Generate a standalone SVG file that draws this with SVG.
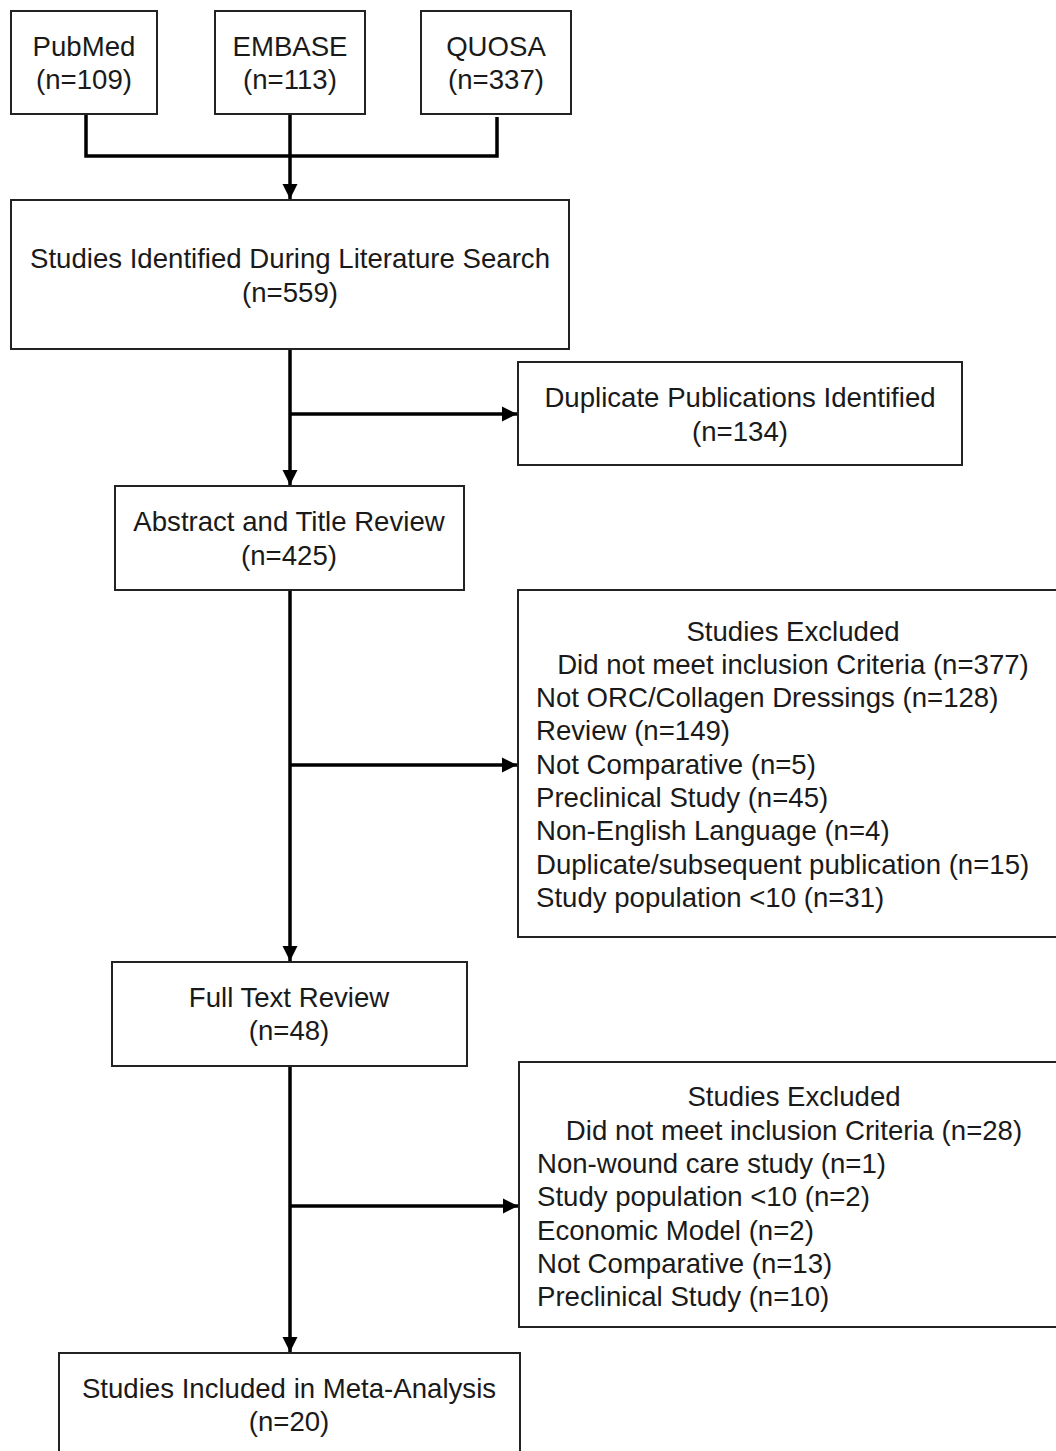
<svg xmlns="http://www.w3.org/2000/svg" width="1056" height="1451" viewBox="0 0 1056 1451">
<defs>
<style>
.box{fill:#fff;stroke:#222;stroke-width:2}
.t{font-family:"Liberation Sans",Arial,sans-serif;font-size:27.6px;fill:#1a1a1a}
.c{text-anchor:middle}
.ln{fill:none;stroke:#000;stroke-width:3.5}
</style>
<marker id="ah" viewBox="0 0 10 10" refX="10" refY="5" markerWidth="4.4" markerHeight="4.4" markerUnits="strokeWidth" orient="auto">
<path d="M0,0 L10,5 L0,10 z" fill="#000"/>
</marker>
</defs>
<rect width="1056" height="1451" fill="#fff"/>
<g id="connectors">
<path class="ln" d="M86,114 V156 H497 V117"/>
<path class="ln" d="M290,114 V199" marker-end="url(#ah)"/>
<path class="ln" d="M290,349 V485" marker-end="url(#ah)"/>
<path class="ln" d="M290,414 H517" marker-end="url(#ah)"/>
<path class="ln" d="M290,590 V961" marker-end="url(#ah)"/>
<path class="ln" d="M290,765 H517" marker-end="url(#ah)"/>
<path class="ln" d="M290,1066 V1352" marker-end="url(#ah)"/>
<path class="ln" d="M290,1206 H518" marker-end="url(#ah)"/>
</g>
<g id="pubmed">
<rect class="box" x="11" y="11" width="146" height="103"/>
<text class="t c" x="84" y="56">PubMed</text>
<text class="t c" x="84" y="89">(n=109)</text>
</g>
<g id="embase">
<rect class="box" x="215" y="11" width="150" height="103"/>
<text class="t c" x="290" y="56">EMBASE</text>
<text class="t c" x="290" y="89">(n=113)</text>
</g>
<g id="quosa">
<rect class="box" x="421" y="11" width="150" height="103"/>
<text class="t c" x="496" y="56">QUOSA</text>
<text class="t c" x="496" y="89">(n=337)</text>
</g>
<g id="identified">
<rect class="box" x="11" y="200" width="558" height="149"/>
<text class="t c" x="290" y="268">Studies Identified During Literature Search</text>
<text class="t c" x="290" y="302">(n=559)</text>
</g>
<g id="duplicates">
<rect class="box" x="518" y="362" width="444" height="103"/>
<text class="t c" x="740" y="407">Duplicate Publications Identified</text>
<text class="t c" x="740" y="441">(n=134)</text>
</g>
<g id="abstract">
<rect class="box" x="115" y="486" width="349" height="104"/>
<text class="t c" x="289" y="531">Abstract and Title Review</text>
<text class="t c" x="289" y="565">(n=425)</text>
</g>
<g id="excluded1">
<rect class="box" x="518" y="590" width="560" height="347"/>
<text class="t c" x="793" y="641">Studies Excluded</text>
<text class="t c" x="793" y="674">Did not meet inclusion Criteria (n=377)</text>
<text class="t" x="536" y="707">Not ORC/Collagen Dressings (n=128)</text>
<text class="t" x="536" y="740">Review (n=149)</text>
<text class="t" x="536" y="774">Not Comparative (n=5)</text>
<text class="t" x="536" y="807">Preclinical Study (n=45)</text>
<text class="t" x="536" y="840">Non-English Language (n=4)</text>
<text class="t" x="536" y="874">Duplicate/subsequent publication (n=15)</text>
<text class="t" x="536" y="907">Study population &lt;10 (n=31)</text>
</g>
<g id="fulltext">
<rect class="box" x="112" y="962" width="355" height="104"/>
<text class="t c" x="289" y="1007">Full Text Review</text>
<text class="t c" x="289" y="1040">(n=48)</text>
</g>
<g id="excluded2">
<rect class="box" x="519" y="1062" width="560" height="265"/>
<text class="t c" x="794" y="1106">Studies Excluded</text>
<text class="t c" x="794" y="1140">Did not meet inclusion Criteria (n=28)</text>
<text class="t" x="537" y="1173">Non-wound care study (n=1)</text>
<text class="t" x="537" y="1206">Study population &lt;10 (n=2)</text>
<text class="t" x="537" y="1240">Economic Model (n=2)</text>
<text class="t" x="537" y="1273">Not Comparative (n=13)</text>
<text class="t" x="537" y="1306">Preclinical Study (n=10)</text>
</g>
<g id="included">
<rect class="box" x="59" y="1353" width="461" height="120"/>
<text class="t c" x="289" y="1398">Studies Included in Meta-Analysis</text>
<text class="t c" x="289" y="1431">(n=20)</text>
</g>
</svg>
